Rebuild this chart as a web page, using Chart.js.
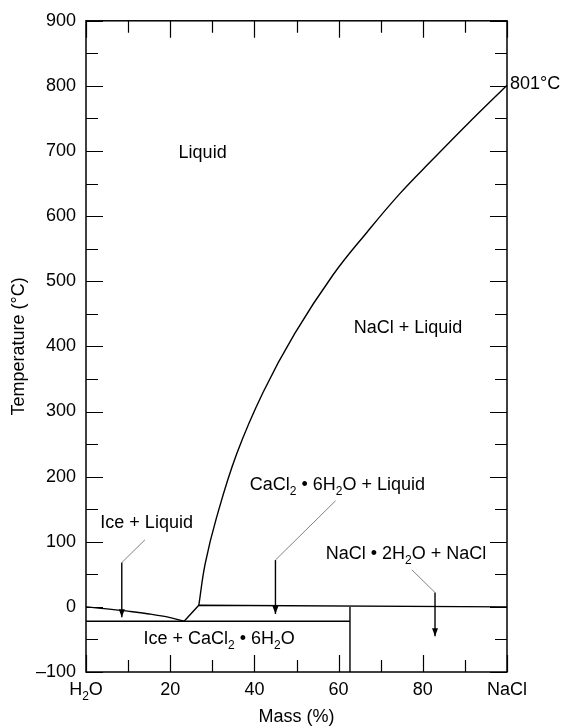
<!DOCTYPE html>
<html>
<head>
<meta charset="utf-8">
<script src="https://cdn.jsdelivr.net/npm/chart.js@4"></script>
<style>
  html, body { margin: 0; padding: 0; background: #fff; }
  #wrap { width: 563px; height: 727px; }
</style>
</head>
<body>
<div id="wrap"><canvas id="phaseChart" width="563" height="727"></canvas></div>
<script>
// liquidus of NaCl (mass %, temperature °C)
const liqMass = [26.8, 28.3, 31.0, 35.8, 42.1, 49.6, 58.7, 66.7, 74.6, 82.5, 90.4, 100];
const liqTemp = [2.5, 66, 137, 235, 330, 420, 510, 575, 635, 688, 740, 801];
// ice liquidus
const iceMass = [0, 5, 10, 15, 20, 23.3];
const iceTemp = [0, -3, -6.6, -10.9, -16.5, -22];
// eutectic point -> peritectic line
const periMass = [23.3, 26.8, 100];
const periTemp = [-22, 2.5, 0];
const eutMass = [0, 62.7];
const eutTemp = [-22, -22];
const hydMass = [62.7, 62.7];
const hydTemp = [0, -100];

// leader lines: gray part then black arrow
const leadIceMass = [14.0, 8.5];
const leadIceTemp = [103, 68];
const arrIceMass = [8.5, 8.5];
const arrIceTemp = [68, -16];
const leadCaMass = [59.3, 45.0];
const leadCaTemp = [163, 72];
const arrCaMass = [45.0, 45.0];
const arrCaTemp = [72, -11];
const leadHydMass = [77.4, 82.9];
const leadHydTemp = [57, 22];
const arrHydMass = [82.9, 82.9];
const arrHydTemp = [22, -45];

// tick labels
const xTickValues = [0, 20, 40, 60, 80, 100];
const xTickLabels = ['H_2O', '20', '40', '60', '80', 'NaCl'];
const xMinorTicks = [10, 30, 50, 70, 90];
const yMajorTicks = [-100, 0, 100, 200, 300, 400, 500, 600, 700, 800, 900];
const yMinorTicks = [-50, 50, 150, 250, 350, 450, 550, 650, 750, 850];

// region labels
const labelText = ['Liquid', 'NaCl + Liquid', 'Ice + Liquid', 'CaCl_2 • 6H_2O + Liquid',
                   'NaCl • 2H_2O + NaCl', 'Ice + CaCl_2 • 6H_2O', '801°C'];
const labelMass = [27.7, 76.5, 14.4, 59.7, 76.0, 31.6, 100];
const labelTemp = [690, 421, 121, 180, 73, -57, 796];

const FONT = '"Liberation Sans", Arial, Helvetica, sans-serif';

function pts(xs, ys) {
    return xs.map(function(x, i) { return { x: x, y: ys[i] }; });
}

function line(xs, ys, color, curved) {
    return {
        data: pts(xs, ys),
        showLine: true,
        borderColor: color,
        borderWidth: color === '#000' ? 1.4 : 1,
        pointRadius: 0,
        tension: curved ? 0.4 : 0
    };
}

// draw text with _2 style subscripts
function drawRich(ctx, str, x, y, align) {
    const parts = str.split(/(_\d)/).filter(function(p) { return p.length; });
    const main = '18px ' + FONT, sub = '12px ' + FONT;
    let w = 0;
    parts.forEach(function(p) {
        ctx.font = p[0] === '_' ? sub : main;
        w += ctx.measureText(p[0] === '_' ? p.slice(1) : p).width;
    });
    let cx = align === 'left' ? x : x - w / 2;
    ctx.textAlign = 'left';
    ctx.textBaseline = 'alphabetic';
    parts.forEach(function(p) {
        const isSub = p[0] === '_';
        const t = isSub ? p.slice(1) : p;
        ctx.font = isSub ? sub : main;
        ctx.fillText(t, cx, isSub ? y + 5 : y);
        cx += ctx.measureText(t).width;
    });
}

const decor = {
    id: 'decor',
    afterDatasetsDraw: function(chart) {
        const ctx = chart.ctx;
        const a = chart.chartArea;
        const xs = chart.scales.x, ys = chart.scales.y;
        ctx.save();
        ctx.strokeStyle = '#000';
        ctx.fillStyle = '#000';
        ctx.lineWidth = 1.2;

        // inward ticks on all four sides
        function xTick(v, len) {
            const px = Math.round(xs.getPixelForValue(v)) + 0.5;
            ctx.beginPath();
            ctx.moveTo(px, a.bottom); ctx.lineTo(px, a.bottom - len);
            ctx.moveTo(px, a.top); ctx.lineTo(px, a.top + len);
            ctx.stroke();
        }
        function yTick(v, len) {
            const py = Math.round(ys.getPixelForValue(v)) + 0.5;
            ctx.beginPath();
            ctx.moveTo(a.left, py); ctx.lineTo(a.left + len, py);
            ctx.moveTo(a.right, py); ctx.lineTo(a.right - len, py);
            ctx.stroke();
        }
        xTickValues.forEach(function(v) { xTick(v, 17); });
        xMinorTicks.forEach(function(v) { xTick(v, 12); });
        yMajorTicks.forEach(function(v) { yTick(v, 17); });
        yMinorTicks.forEach(function(v) { yTick(v, 12); });

        // frame
        ctx.lineWidth = 1.5;
        ctx.strokeRect(a.left, a.top, a.right - a.left, a.bottom - a.top);

        // arrowheads
        [[arrIceMass, arrIceTemp], [arrCaMass, arrCaTemp], [arrHydMass, arrHydTemp]].forEach(function(arr) {
            const n = arr[0].length - 1;
            const px = xs.getPixelForValue(arr[0][n]);
            const py = ys.getPixelForValue(arr[1][n]);
            ctx.beginPath();
            ctx.moveTo(px, py);
            ctx.lineTo(px - 3, py - 8);
            ctx.lineTo(px + 3, py - 8);
            ctx.closePath();
            ctx.fill();
        });

        // region labels
        labelText.forEach(function(t, i) {
            drawRich(ctx, t, xs.getPixelForValue(labelMass[i]) + (t === '801°C' ? 3 : 0),
                     ys.getPixelForValue(labelTemp[i]), t === '801°C' ? 'left' : 'center');
        });

        // x tick labels
        xTickValues.forEach(function(v, i) {
            drawRich(ctx, xTickLabels[i], xs.getPixelForValue(v), a.bottom + 23, 'center');
        });
        ctx.restore();
    }
};

const chart = new Chart(document.getElementById('phaseChart').getContext('2d'), {
    type: 'scatter',
    data: {
        datasets: [
            line(liqMass, liqTemp, '#000', true),
            line(iceMass, iceTemp, '#000', true),
            line(periMass, periTemp, '#000', false),
            line(eutMass, eutTemp, '#000', false),
            line(hydMass, hydTemp, '#000', false),
            line(leadIceMass, leadIceTemp, '#808080', false),
            line(arrIceMass, arrIceTemp, '#000', false),
            line(leadCaMass, leadCaTemp, '#808080', false),
            line(arrCaMass, arrCaTemp, '#000', false),
            line(leadHydMass, leadHydTemp, '#808080', false),
            line(arrHydMass, arrHydTemp, '#000', false)
        ]
    },
    options: {
        responsive: false,
        animation: false,
        layout: { padding: { top: 17, right: 56, left: 0, bottom: 0 } },
        plugins: { legend: { display: false }, tooltip: { enabled: false } },
        scales: {
            x: {
                type: 'linear', min: 0, max: 100,
                grid: { display: false, drawTicks: false },
                border: { display: false },
                ticks: { display: false },
                title: {
                    display: true, text: 'Mass (%)', color: '#000',
                    font: { family: FONT, size: 18 }, padding: { top: 0, bottom: -1 }
                },
                afterFit: function(s) { s.height = 55; }
            },
            y: {
                type: 'linear', min: -100, max: 900,
                grid: { display: false, drawTicks: false },
                border: { display: false },
                ticks: {
                    stepSize: 100, padding: 10, color: '#000',
                    font: { family: FONT, size: 18 },
                    callback: function(v) { return v < 0 ? '–' + Math.abs(v) : String(v); }
                },
                title: {
                    display: true, text: 'Temperature (°C)', color: '#000',
                    font: { family: FONT, size: 18 }, padding: { top: 8, bottom: 0 }
                },
                afterFit: function(s) { s.width = 86; }
            }
        }
    },
    plugins: [decor]
});
</script>
</body>
</html>
